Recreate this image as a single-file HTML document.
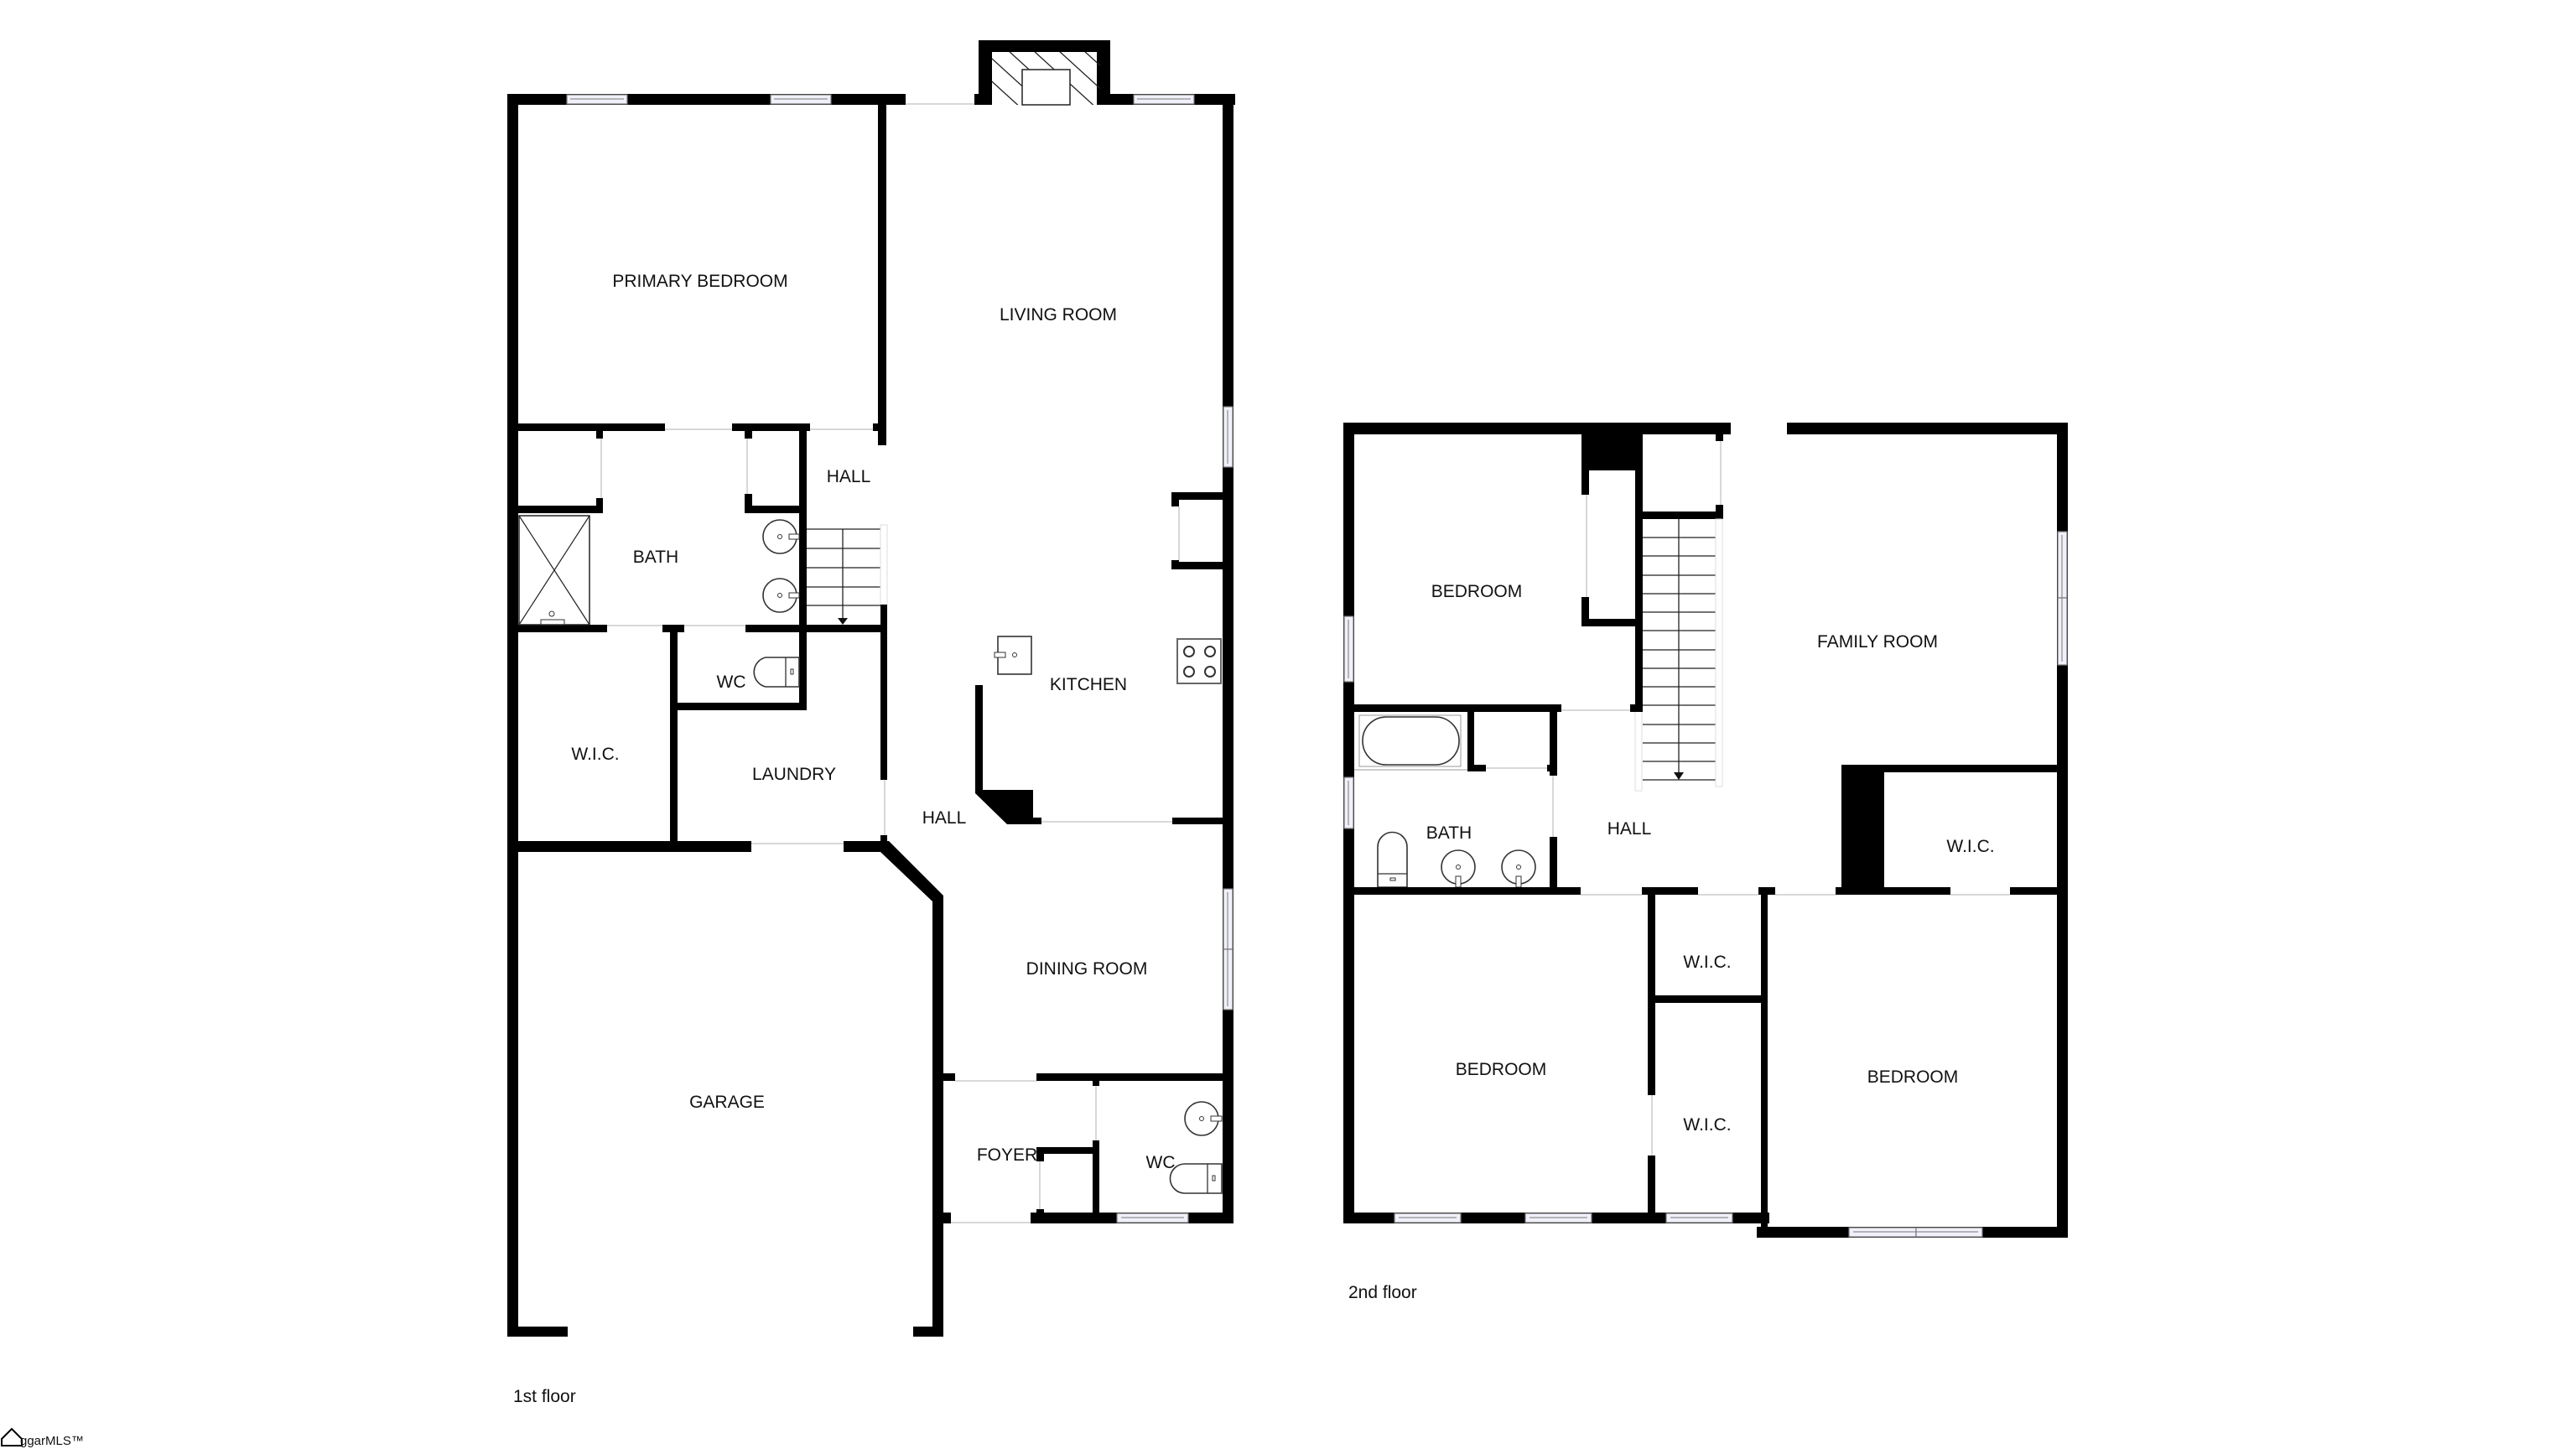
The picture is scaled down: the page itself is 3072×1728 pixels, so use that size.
<!DOCTYPE html>
<html><head><meta charset="utf-8"><style>
html,body{margin:0;padding:0;background:#fff;}
svg{display:block;}
text{font-family:"Liberation Sans",sans-serif;font-size:21px;fill:#111;text-anchor:middle;}
.w{fill:#000;}
.win{fill:#f0f0fa;stroke:#777;stroke-width:1.2;}
.dr{stroke:#d8d8d8;stroke-width:2;fill:none;}
.fx{fill:#fff;stroke:#333;stroke-width:1.6;}
.st{stroke:#222;stroke-width:1.3;fill:none;}
</style></head><body>
<svg width="3072" height="1728" viewBox="0 0 3072 1728" xmlns="http://www.w3.org/2000/svg">
<rect width="3072" height="1728" fill="#fff"/>
<defs><clipPath id="ch"><rect x="1183" y="62" width="129" height="63"/></clipPath></defs>

<!-- ============ 1ST FLOOR ============ -->
<rect class="w" x="1167" y="48" width="157" height="14"/>
<rect class="w" x="1167" y="48" width="16" height="77"/>
<rect class="w" x="1308" y="48" width="16" height="77"/>
<g clip-path="url(#ch)" class="st">
<line x1="1150" y1="40" x2="1260" y2="140"/><line x1="1180" y1="40" x2="1290" y2="140"/>
<line x1="1210" y1="40" x2="1320" y2="140"/><line x1="1240" y1="40" x2="1350" y2="140"/>
<line x1="1270" y1="40" x2="1380" y2="140"/><line x1="1120" y1="40" x2="1230" y2="140"/>
<line x1="1300" y1="40" x2="1410" y2="140"/>
</g>
<rect x="1219" y="83" width="57" height="42" fill="#fff" stroke="#222" stroke-width="1.5"/>
<rect class="w" x="605" y="112" width="475" height="13"/>
<rect class="w" x="1162" y="112" width="10" height="13"/>
<rect class="w" x="1315" y="112" width="158" height="13"/>
<line class="dr" x1="1080" y1="124" x2="1162" y2="124"/>
<rect class="win" x="676" y="113" width="72" height="11"/><line x1="680" y1="118" x2="744" y2="118" stroke="#777"/>
<rect class="win" x="919" y="113" width="72" height="11"/><line x1="923" y1="118" x2="987" y2="118" stroke="#777"/>
<rect class="win" x="1352" y="113" width="72" height="11"/><line x1="1356" y1="118" x2="1420" y2="118" stroke="#777"/>
<rect class="w" x="605" y="112" width="13" height="1482"/>
<rect class="w" x="605" y="1582" width="72" height="12"/>
<rect class="w" x="1458" y="112" width="13" height="1347"/>
<rect class="win" x="1459" y="485" width="11" height="72"/><line x1="1464" y1="489" x2="1464" y2="553" stroke="#777"/>
<rect class="win" x="1459" y="1060" width="11" height="72"/><rect class="win" x="1459" y="1132" width="11" height="72"/>
<line x1="1464" y1="1064" x2="1464" y2="1200" stroke="#777"/>
<rect class="w" x="1047" y="125" width="10" height="406"/>
<rect class="w" x="605" y="505" width="188" height="9"/>
<rect class="w" x="873" y="505" width="93" height="9"/>
<rect class="w" x="1041" y="505" width="16" height="9"/>
<line class="dr" x1="793" y1="512" x2="873" y2="512"/>
<line class="dr" x1="966" y1="512" x2="1041" y2="512"/>
<rect class="w" x="711" y="514" width="8" height="9"/>
<rect class="w" x="711" y="594" width="8" height="18"/>
<line class="dr" x1="717" y1="523" x2="717" y2="594"/>
<rect class="w" x="618" y="603" width="101" height="9"/>
<rect class="w" x="888" y="514" width="9" height="9"/>
<rect class="w" x="888" y="589" width="9" height="23"/>
<line class="dr" x1="891" y1="523" x2="891" y2="589"/>
<rect class="w" x="888" y="603" width="74" height="9"/>
<rect class="w" x="953" y="505" width="9" height="342"/>
<rect class="w" x="605" y="745" width="119" height="9"/>
<rect class="w" x="790" y="745" width="26" height="9"/>
<rect class="w" x="889" y="745" width="169" height="9"/>
<line class="dr" x1="724" y1="746" x2="790" y2="746"/>
<line class="dr" x1="816" y1="746" x2="889" y2="746"/>
<rect x="619" y="615" width="84" height="130" fill="#fff" stroke="#222" stroke-width="1.5"/>
<line x1="619" y1="615" x2="703" y2="745" stroke="#222" stroke-width="1.2"/>
<line x1="703" y1="615" x2="619" y2="745" stroke="#222" stroke-width="1.2"/>
<rect x="645" y="739" width="28" height="6" fill="none" stroke="#333" stroke-width="1"/>
<circle cx="658" cy="732" r="3" fill="none" stroke="#333"/>
<circle class="fx" cx="930" cy="640" r="20"/><circle cx="930" cy="640" r="2.5" fill="none" stroke="#333"/><rect x="941" y="637" width="12" height="6" fill="#fff" stroke="#333"/>
<circle class="fx" cx="930" cy="710" r="20"/><circle cx="930" cy="710" r="2.5" fill="none" stroke="#333"/><rect x="941" y="707" width="12" height="6" fill="#fff" stroke="#333"/>
<g class="st">
<line x1="962" y1="631" x2="1050" y2="631"/><line x1="962" y1="654" x2="1050" y2="654"/>
<line x1="962" y1="677" x2="1050" y2="677"/><line x1="962" y1="700" x2="1050" y2="700"/>
<line x1="962" y1="722" x2="1050" y2="722"/><line x1="1005" y1="631" x2="1005" y2="738"/>
</g>
<polygon points="999,737 1011,737 1005,745" fill="#111"/>
<rect x="1050" y="626" width="8" height="95" fill="#fff" stroke="#ddd"/>
<rect class="w" x="1050" y="721" width="8" height="209"/>
<line class="dr" x1="1055" y1="930" x2="1055" y2="996"/>
<rect class="w" x="1050" y="996" width="8" height="10"/>
<rect class="w" x="799" y="745" width="9" height="261"/>
<rect class="w" x="799" y="838" width="163" height="9"/>
<path d="M953,784 L913,784 A18,18 0 0 0 913,819 L953,819 Z" class="fx"/>
<line x1="937" y1="784" x2="937" y2="819" stroke="#333" stroke-width="1.3"/>
<rect x="943" y="798" width="3" height="6" fill="none" stroke="#333"/>
<rect class="w" x="605" y="1003" width="291" height="13"/>
<rect class="w" x="1006" y="1003" width="52" height="13"/>
<line class="dr" x1="896" y1="1006" x2="1006" y2="1006"/>
<polygon class="w" points="1050,1003 1060,1003 1125,1068 1125,1078 1112,1078 1112,1075 1050,1016"/>
<rect class="w" x="1112" y="1070" width="13" height="524"/>
<rect class="w" x="1089" y="1582" width="36" height="12"/>
<rect class="w" x="1163" y="817" width="9" height="128"/>
<polygon class="w" points="1163,942 1232,942 1232,975 1242,975 1242,983 1201,983 1163,946"/>
<rect class="w" x="1398" y="975" width="60" height="8"/>
<line class="dr" x1="1242" y1="980" x2="1398" y2="980"/>
<rect x="1190" y="759" width="40" height="45" class="fx"/>
<rect x="1186" y="778" width="13" height="6" fill="#fff" stroke="#333"/>
<circle cx="1210" cy="781" r="2.5" fill="none" stroke="#333"/>
<rect x="1404" y="762" width="52" height="53" fill="#fff" stroke="#666" stroke-width="2"/>
<circle cx="1418" cy="777" r="6" fill="none" stroke="#333" stroke-width="2"/><circle cx="1443" cy="777" r="6" fill="none" stroke="#333" stroke-width="2"/>
<circle cx="1418" cy="801" r="6" fill="none" stroke="#333" stroke-width="2"/><circle cx="1443" cy="801" r="6" fill="none" stroke="#333" stroke-width="2"/>
<rect class="w" x="1397" y="587" width="61" height="9"/>
<rect class="w" x="1397" y="587" width="9" height="17"/>
<rect class="w" x="1397" y="668" width="9" height="11"/>
<rect class="w" x="1397" y="670" width="61" height="9"/>
<line class="dr" x1="1406" y1="604" x2="1406" y2="668"/>
<rect class="w" x="1125" y="1280" width="14" height="9"/>
<rect class="w" x="1236" y="1280" width="222" height="9"/>
<line class="dr" x1="1139" y1="1289" x2="1236" y2="1289"/>
<rect class="w" x="1303" y="1289" width="8" height="6"/>
<line class="dr" x1="1307" y1="1295" x2="1307" y2="1360"/>
<rect class="w" x="1303" y="1360" width="8" height="99"/>
<rect class="w" x="1236" y="1368" width="75" height="8"/>
<rect class="w" x="1236" y="1368" width="9" height="17"/>
<rect class="w" x="1236" y="1442" width="9" height="17"/>
<line class="dr" x1="1240" y1="1385" x2="1240" y2="1442"/>
<rect class="w" x="1112" y="1446" width="22" height="13"/>
<rect class="w" x="1229" y="1446" width="242" height="13"/>
<line class="dr" x1="1134" y1="1458" x2="1229" y2="1458"/>
<rect class="win" x="1332" y="1447" width="85" height="11"/><line x1="1337" y1="1452" x2="1412" y2="1452" stroke="#777"/>
<circle class="fx" cx="1433" cy="1334" r="20"/><circle cx="1433" cy="1334" r="2.5" fill="none" stroke="#333"/><rect x="1444" y="1331" width="13" height="6" fill="#fff" stroke="#333"/>
<path d="M1457,1388 L1413,1388 A17.5,17.5 0 0 0 1413,1423 L1457,1423 Z" class="fx"/>
<line x1="1440" y1="1388" x2="1440" y2="1423" stroke="#333" stroke-width="1.3"/>
<rect x="1446" y="1402" width="3" height="6" fill="none" stroke="#333"/>

<text x="835" y="342">PRIMARY BEDROOM</text>
<text x="1262" y="382">LIVING ROOM</text>
<text x="1012" y="575">HALL</text>
<text x="782" y="671">BATH</text>
<text x="872" y="820">WC</text>
<text x="1298" y="823">KITCHEN</text>
<text x="710" y="906">W.I.C.</text>
<text x="947" y="930">LAUNDRY</text>
<text x="1126" y="982">HALL</text>
<text x="1296" y="1162">DINING ROOM</text>
<text x="867" y="1321">GARAGE</text>
<text x="1201" y="1384">FOYER</text>
<text x="1384" y="1393">WC</text>
<text x="612" y="1672" style="text-anchor:start">1st floor</text>

<!-- ============ 2ND FLOOR ============ -->
<rect class="w" x="1602" y="504" width="462" height="14"/>
<rect class="w" x="2131" y="504" width="335" height="14"/>
<rect class="w" x="1602" y="504" width="13" height="955"/>
<rect class="w" x="2453" y="504" width="13" height="972"/>
<rect class="win" x="1603" y="735" width="11" height="78"/><line x1="1608" y1="739" x2="1608" y2="809" stroke="#777"/>
<rect class="win" x="1603" y="927" width="11" height="61"/><line x1="1608" y1="931" x2="1608" y2="984" stroke="#777"/>
<rect class="win" x="2454" y="634" width="11" height="79"/><rect class="win" x="2454" y="713" width="11" height="80"/>
<line x1="2459" y1="638" x2="2459" y2="789" stroke="#777"/>
<rect class="w" x="1886" y="518" width="64" height="43"/>
<rect class="w" x="1886" y="518" width="9" height="72"/>
<rect class="w" x="1886" y="712" width="9" height="35"/>
<rect class="w" x="1886" y="738" width="64" height="9"/>
<line class="dr" x1="1892" y1="590" x2="1892" y2="712"/>
<rect class="w" x="1950" y="504" width="9" height="344"/>
<rect class="w" x="2046" y="504" width="9" height="22"/>
<rect class="w" x="2046" y="602" width="9" height="17"/>
<rect class="w" x="1959" y="610" width="96" height="9"/>
<line class="dr" x1="2052" y1="526" x2="2052" y2="602"/>
<g class="st">
<line x1="1959" y1="641" x2="2046" y2="641"/><line x1="1959" y1="663" x2="2046" y2="663"/>
<line x1="1959" y1="686" x2="2046" y2="686"/><line x1="1959" y1="708" x2="2046" y2="708"/>
<line x1="1959" y1="730" x2="2046" y2="730"/><line x1="1959" y1="752" x2="2046" y2="752"/>
<line x1="1959" y1="775" x2="2046" y2="775"/><line x1="1959" y1="797" x2="2046" y2="797"/>
<line x1="1959" y1="819" x2="2046" y2="819"/><line x1="1959" y1="841" x2="2046" y2="841"/>
<line x1="1959" y1="864" x2="2046" y2="864"/><line x1="1959" y1="886" x2="2046" y2="886"/>
<line x1="1959" y1="908" x2="2046" y2="908"/><line x1="1959" y1="930" x2="2046" y2="930"/>
<line x1="2002" y1="619" x2="2002" y2="922"/>
</g>
<polygon points="1996,921 2008,921 2002,930" fill="#111"/>
<rect x="2046" y="619" width="8" height="319" fill="#fff" stroke="#ddd"/>
<rect x="1950" y="848" width="8" height="95" fill="#fff" stroke="#ddd"/>
<rect class="w" x="1602" y="840" width="260" height="9"/>
<rect class="w" x="1944" y="840" width="15" height="9"/>
<line class="dr" x1="1862" y1="847" x2="1944" y2="847"/>
<rect x="1621" y="853" width="121" height="61" fill="#fff" stroke="#999" stroke-width="1"/>
<rect x="1625" y="855" width="115" height="57" rx="28" class="fx" stroke-width="1.3"/>
<rect class="w" x="1750" y="849" width="8" height="71"/>
<rect class="w" x="1750" y="912" width="22" height="8"/>
<rect class="w" x="1845" y="912" width="11" height="8"/>
<line class="dr" x1="1772" y1="916" x2="1845" y2="916"/>
<rect class="w" x="1848" y="840" width="9" height="85"/>
<line class="dr" x1="1852" y1="925" x2="1852" y2="998"/>
<rect class="w" x="1848" y="998" width="9" height="69"/>
<line x1="1615" y1="918" x2="1750" y2="918" stroke="#999"/>
<path d="M1643,1058 L1643,1010 A17.5,17.5 0 0 1 1678,1010 L1678,1058 Z" class="fx"/>
<line x1="1643" y1="1042" x2="1678" y2="1042" stroke="#333" stroke-width="1.3"/>
<rect x="1658" y="1047" width="6" height="3" fill="none" stroke="#333"/>
<circle class="fx" cx="1739" cy="1034" r="20"/><circle cx="1739" cy="1034" r="2.5" fill="none" stroke="#333"/><rect x="1736" y="1045" width="6" height="13" fill="#fff" stroke="#333"/>
<circle class="fx" cx="1811" cy="1034" r="20"/><circle cx="1811" cy="1034" r="2.5" fill="none" stroke="#333"/><rect x="1808" y="1045" width="6" height="13" fill="#fff" stroke="#333"/>
<rect class="w" x="1602" y="1058" width="283" height="9"/>
<rect class="w" x="1958" y="1058" width="67" height="9"/>
<rect class="w" x="2097" y="1058" width="20" height="9"/>
<rect class="w" x="2189" y="1058" width="137" height="9"/>
<rect class="w" x="2397" y="1058" width="69" height="9"/>
<line class="dr" x1="1885" y1="1067" x2="1958" y2="1067"/>
<line class="dr" x1="2025" y1="1067" x2="2097" y2="1067"/>
<line class="dr" x1="2117" y1="1067" x2="2189" y2="1067"/>
<line class="dr" x1="2326" y1="1067" x2="2397" y2="1067"/>
<rect class="w" x="2196" y="912" width="270" height="9"/>
<rect class="w" x="2196" y="912" width="51" height="150"/>
<rect class="w" x="1965" y="1058" width="9" height="248"/>
<line class="dr" x1="1970" y1="1306" x2="1970" y2="1378"/>
<rect class="w" x="1965" y="1378" width="9" height="81"/>
<rect class="w" x="1974" y="1187" width="130" height="9"/>
<rect class="w" x="2100" y="1058" width="8" height="418"/>
<rect class="w" x="1602" y="1446" width="508" height="13"/>
<rect class="win" x="1663" y="1447" width="79" height="11"/><line x1="1668" y1="1452" x2="1737" y2="1452" stroke="#777"/>
<rect class="win" x="1819" y="1447" width="79" height="11"/><line x1="1824" y1="1452" x2="1893" y2="1452" stroke="#777"/>
<rect class="win" x="1987" y="1447" width="79" height="11"/><line x1="1992" y1="1452" x2="2061" y2="1452" stroke="#777"/>
<rect class="w" x="2095" y="1463" width="371" height="13"/>
<rect class="win" x="2205" y="1464" width="80" height="11"/><rect class="win" x="2285" y="1464" width="79" height="11"/>
<line x1="2210" y1="1469" x2="2359" y2="1469" stroke="#777"/>

<text x="1761" y="712">BEDROOM</text>
<text x="2239" y="772">FAMILY ROOM</text>
<text x="1728" y="1000">BATH</text>
<text x="1943" y="995">HALL</text>
<text x="2350" y="1016">W.I.C.</text>
<text x="2036" y="1154">W.I.C.</text>
<text x="2036" y="1348">W.I.C.</text>
<text x="1790" y="1282">BEDROOM</text>
<text x="2281" y="1291">BEDROOM</text>
<text x="1608" y="1548" style="text-anchor:start">2nd floor</text>

<path d="M2,1716 L14,1704 L26,1716 L26,1724 L2,1724 Z" fill="none" stroke="#000" stroke-width="2"/>
<text x="24" y="1723" style="text-anchor:start;font-size:15px">ggarMLS™</text>
</svg>
</body></html>
